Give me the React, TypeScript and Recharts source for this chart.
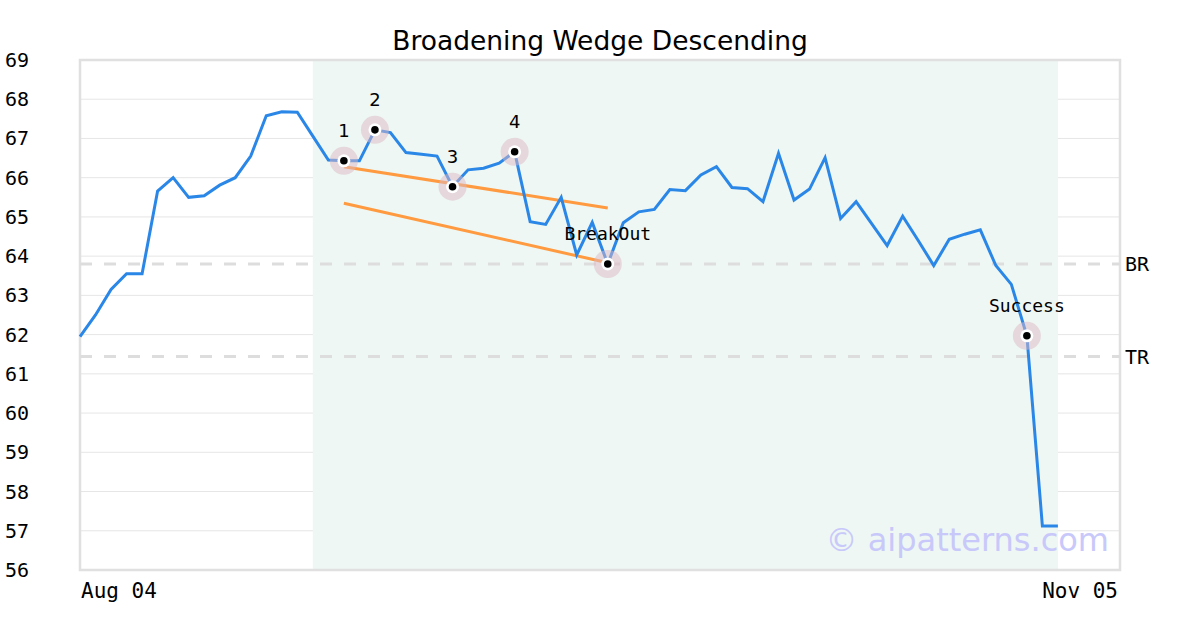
import { CartesianGrid, ComposedChart, Line, ReferenceArea, ReferenceLine, Scatter, XAxis, YAxis } from 'recharts';

const prices = [
  61.95, 62.5, 63.15, 63.55, 63.55, 65.66, 66.0, 65.5, 65.54, 65.81,
  66.0, 66.55, 67.58, 67.68, 67.67, 67.06, 66.45, 66.43, 66.43, 67.22,
  67.15, 66.64, 66.6, 66.55, 65.77, 66.2, 66.24, 66.37, 66.66, 64.88,
  64.81, 65.5, 64.03, 64.86, 63.8, 64.85, 65.13, 65.19, 65.7, 65.67,
  66.07, 66.28, 65.75, 65.72, 65.39, 66.62, 65.43, 65.71, 66.51, 64.96,
  65.39, 64.83, 64.27, 65.02, 64.4, 63.76, 64.43, 64.56, 64.67, 63.76,
  63.28, 61.97, 57.12, 57.12
];

const xTickLabels = ['Aug 04', 'Nov 05'];
const xTicks = [0, 67];
const yTicks = [56, 57, 58, 59, 60, 61, 62, 63, 64, 65, 66, 67, 68, 69];

const markers = [
  { i: 17, v: 66.43, label: '1', mono: false },
  { i: 19, v: 67.22, label: '2', mono: false },
  { i: 24, v: 65.77, label: '3', mono: false },
  { i: 28, v: 66.66, label: '4', mono: false },
  { i: 34, v: 63.8, label: 'BreakOut', mono: true },
  { i: 61, v: 61.97, label: 'Success', mono: true }
];

const upperTrend = [{ x: 17, y: 66.28 }, { x: 34, y: 65.23 }];
const lowerTrend = [{ x: 17, y: 65.35 }, { x: 34, y: 63.83 }];
const breakoutLevel = 63.8;
const targetLevel = 61.44;
const patternRange = [15, 63];

const data = prices.map((v, i) => ({ i, v }));

const MONO = '"DejaVu Sans Mono", monospace';
const SANS = '"DejaVu Sans", sans-serif';

function YTick(props: any) {
  const { y, payload } = props;
  return (
    <text x={5} y={y} dy={7} fontFamily={MONO} fontSize={20} fill="#000" textAnchor="start">
      {payload.value}
    </text>
  );
}

function XTick(props: any) {
  const { x, y, payload, index } = props;
  const first = index === 0;
  return (
    <text x={first ? x + 1 : x - 2} y={y + 20} fontFamily={MONO} fontSize={21} fill="#000" textAnchor={first ? 'start' : 'end'}>
      {xTickLabels[xTicks.indexOf(payload.value)]}
    </text>
  );
}

function Marker(props: any) {
  const { cx, cy, payload } = props;
  return (
    <g>
      <circle cx={cx} cy={cy} r={14} fill="#dcb8c4" fillOpacity={0.5} />
      <circle cx={cx} cy={cy} r={6.5} fill="#fff" />
      <circle cx={cx} cy={cy} r={3.8} fill="#000" />
      <text x={cx} y={cy - 24} textAnchor="middle" fontFamily={payload.mono ? MONO : SANS} fontSize={18} fill="#000">
        {payload.label}
      </text>
    </g>
  );
}

function SideLabel(text: string) {
  return (props: any) => {
    const { viewBox } = props;
    return (
      <text x={viewBox.x + viewBox.width + 5} y={viewBox.y + 7} fontFamily={MONO} fontSize={20} fill="#000">
        {text}
      </text>
    );
  };
}

export default function App() {
  return (
    <div style={{ position: 'absolute', left: 0, top: 0, width: 1200, height: 630, background: '#fff' }}>
      <div style={{ position: 'absolute', left: 0, top: 25, width: 1200, textAlign: 'center', fontFamily: SANS, fontSize: 26.5, color: '#000' }}>
        Broadening Wedge Descending
      </div>
      <ComposedChart width={1200} height={630} data={data} margin={{ top: 60, right: 80, bottom: 0, left: 0 }}>
        <ReferenceArea x1={patternRange[0]} x2={patternRange[1]} y1={56} y2={69} fill="#eef7f3" fillOpacity={1} stroke="none" />
        <CartesianGrid vertical={false} stroke="#e6e6e6" strokeWidth={1} />
        <XAxis dataKey="i" type="number" domain={[0, 67]} ticks={xTicks} tick={<XTick />} axisLine={false} tickLine={false} height={60} interval={0} />
        <YAxis type="number" domain={[56, 69]} ticks={yTicks} tick={<YTick />} axisLine={false} tickLine={false} width={80} interval={0} />
        <ReferenceLine y={breakoutLevel} stroke="#dddddd" strokeWidth={3} strokeDasharray="12 12" label={SideLabel('BR')} />
        <ReferenceLine y={targetLevel} stroke="#dddddd" strokeWidth={3} strokeDasharray="12 12" label={SideLabel('TR')} />
        <ReferenceLine segment={upperTrend} stroke="#ff9a40" strokeWidth={3} />
        <ReferenceLine segment={lowerTrend} stroke="#ff9a40" strokeWidth={3} />
        <Line dataKey="v" stroke="#2a87e8" strokeWidth={3} dot={false} isAnimationActive={false} type="linear" />
        <Scatter data={markers} dataKey="v" shape={<Marker />} isAnimationActive={false} />
        <ReferenceArea x1={0} x2={67} y1={56} y2={69} fill="none" stroke="#e0e0e0" strokeWidth={2.5} ifOverflow="visible" />
      </ComposedChart>
      <div style={{ position: 'absolute', right: 91, top: 521, fontFamily: SANS, fontSize: 32, color: '#c8c8fa' }}>
        © aipatterns.com
      </div>
    </div>
  );
}
